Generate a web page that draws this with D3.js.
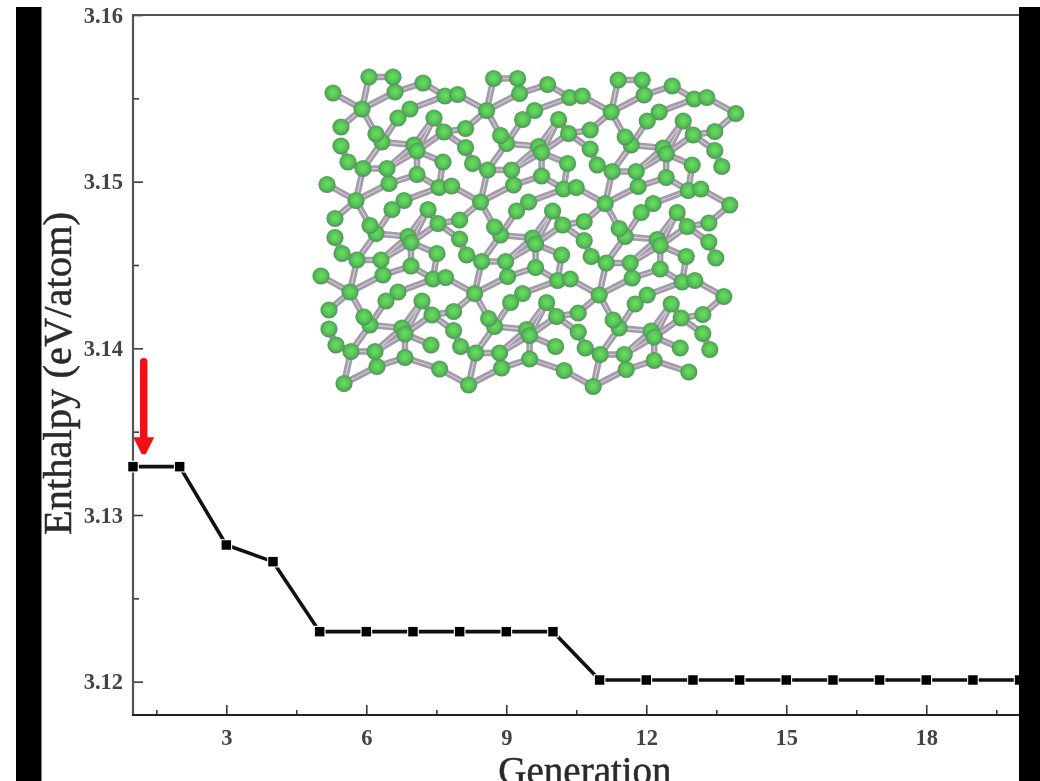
<!DOCTYPE html>
<html>
<head>
<meta charset="utf-8">
<script src="https://d3js.org/d3.v7.min.js"></script>
<style>
html,body{margin:0;padding:0;background:#fff;overflow:hidden}
svg{display:block;filter:blur(0.7px)}
text{font-family:"Liberation Serif",serif}
</style>
</head>
<body>
<svg id="c" width="1040" height="781"></svg>
<script>
// Chart data
const generations = d3.range(1, 21);
const enthalpy = [3.1329,3.1329,3.1282,3.1272,3.123,3.123,3.123,3.123,3.123,3.123,
                  3.1201,3.1201,3.1201,3.1201,3.1201,3.1201,3.1201,3.1201,3.1201,3.1201];
const xTicks = [3,6,9,12,15,18];
const xMinorTicks = [1.5,4.5,7.5,10.5,13.5,16.5,19.5];
const yTicks = [3.12,3.13,3.14,3.15,3.16];
const yMinorTicks = [3.125,3.135,3.145,3.155];
const arrowStart = [1.23, 3.1392];
const arrowEnd = [1.23, 3.1337];

// Inset structure: one repeating motif (name, a, b), in inset units
const motifAtoms = [
  ["E",-29,-16],["F",-21,18],["Q",-21,37],["R",-14,53],
  ["C",33,-17],["D",61,-26],["A",7,-32],["B",31,-32],
  ["I",83,-13],["G",48,0],["H",36,9],["K",72,9],["L",82,23],
  ["U",81,53],["N",20,33],["M",14,25],["O",52,36],["P",55,42],["Hub",0,0]
];
// from, to, cell step a, cell step b
const motifBonds = [
  ["Hub","A",0,0],["Hub","E",0,0],["Hub","F",0,0],["Hub","C",0,0],["Hub","M",0,0],
  ["A","B",0,0],["B","C",0,0],["C","D",0,0],["D","I",0,0],["I","E",1,0],["D","E",1,0],
  ["G","I",0,0],["G","H",0,0],["H","N",0,0],["M","N",0,0],["N","O",0,0],["N","A",0,1],
  ["O","P",0,0],["O","K",0,0],["P","L",0,0],["L","F",1,0],["L","Q",1,0],["L","K",0,0],
  ["Q","R",0,0],["R","A",0,1],["P","U",0,0],["P","D",0,1],["U","I",0,1],
  ["O","B",0,1],["P","B",0,1],["K","P",0,0]
];
const cellsAcross = [0,1,2,3];
const cellsDown = [0,1,2,3];
const rightEdgeAtoms = ["Hub","E","F","Q","R"];
const bottomEdgeAtoms = ["Hub","A","B","C","D","E"];

const svg = d3.select("#c");
const W = 1040, H = 781;

const x = d3.scaleLinear().domain([1,20]).range([133,1019.6]);
const y = d3.scaleLinear().domain([3.118,3.16]).range([715,15]);

// Inset scales
const insetX = d3.scaleLinear().domain([0,100]).range([362,462]);
const insetY = d3.scaleLinear().domain([0,100]).range([109,209]);
const stepA = [124.6,1.5], stepB = [-6,91.5];

svg.append("rect").attr("width",W).attr("height",H).attr("fill","#fff");

// Inset
const defs = svg.append("defs");
const grad = defs.append("radialGradient").attr("id","atom").attr("cx","50%").attr("cy","48%").attr("r","52%");
grad.append("stop").attr("offset","0%").attr("stop-color","#6fdc68");
grad.append("stop").attr("offset","58%").attr("stop-color","#55c553");
grad.append("stop").attr("offset","100%").attr("stop-color","#4f8f5c");

const atomIndex = new Map(motifAtoms.map(d => [d[0], d]));
function present(name,i,j){
  if(i===3 && j===3) return name==="E";
  if(i===3) return rightEdgeAtoms.includes(name);
  if(j===3) return bottomEdgeAtoms.includes(name) && !(name==="E" && i===0);
  return true;
}
function place(name,i,j){
  const a = atomIndex.get(name);
  return [insetX(a[1]) + i*stepA[0] + j*stepB[0], insetY(a[2]) + i*stepA[1] + j*stepB[1]];
}
const atoms = [], bonds = [];
cellsAcross.forEach(i => cellsDown.forEach(j => {
  motifAtoms.forEach(a => { if(present(a[0],i,j)) atoms.push(place(a[0],i,j)); });
  motifBonds.forEach(b => {
    const i2=i+b[2], j2=j+b[3];
    if(i2>3||j2>3) return;
    if(b[0]==="D"&&b[1]==="E"&&j!==3) return;
    if(present(b[0],i,j)&&present(b[1],i2,j2)) bonds.push([place(b[0],i,j),place(b[1],i2,j2)]);
  });
}));
const inset = svg.append("g");
const bondLine = d3.line();
inset.selectAll("path.b").data(bonds).join("path").attr("class","b")
  .attr("d",bondLine).attr("stroke","#a39ba8").attr("stroke-width",6.5).attr("fill","none");
inset.selectAll("path.c").data(bonds).join("path").attr("class","c")
  .attr("d",bondLine).attr("stroke","#d0cbd4").attr("stroke-width",1.3).attr("fill","none");
inset.selectAll("circle").data(atoms).join("circle")
  .attr("cx",d=>d[0]).attr("cy",d=>d[1]).attr("r",8.6).attr("fill","url(#atom)");

// Axes
const axisCol = "#3a3a3a";
function styleAxis(g){
  g.select(".domain").remove();
  g.selectAll("line").attr("stroke",axisCol).attr("stroke-width",1.6);
  g.selectAll("text").attr("font-size",22.5).attr("font-weight","bold").attr("fill","#444");
}
const gx = svg.append("g").attr("transform","translate(0,715)")
  .call(d3.axisBottom(x).tickValues(xTicks).tickSize(-10).tickPadding(13).tickFormat(d3.format("d")));
styleAxis(gx);
gx.selectAll("text").attr("dy","0.71em").attr("y",14);
const gxm = svg.append("g").attr("transform","translate(0,715)")
  .call(d3.axisBottom(x).tickValues(xMinorTicks).tickSize(-5).tickFormat(""));
styleAxis(gxm);
const gy = svg.append("g").attr("transform","translate(133,0)")
  .call(d3.axisLeft(y).tickValues(yTicks).tickSize(-10).tickPadding(10).tickFormat(d3.format(".2f")));
styleAxis(gy);
const gym = svg.append("g").attr("transform","translate(133,0)")
  .call(d3.axisLeft(y).tickValues(yMinorTicks).tickSize(-6).tickFormat(""));
styleAxis(gym);

// Frame
const frame = svg.append("g");
frame.append("line").attr("x1",133).attr("x2",133).attr("y1",14).attr("y2",716).attr("stroke","#555").attr("stroke-width",2.2);
frame.append("line").attr("x1",132).attr("x2",1022).attr("y1",15).attr("y2",15).attr("stroke","#555").attr("stroke-width",1.8);
frame.append("line").attr("x1",132).attr("x2",1022).attr("y1",715).attr("y2",715).attr("stroke","#222").attr("stroke-width",2);

// Series
const series = generations.map((g,i)=>[g,enthalpy[i]]);
svg.append("path").datum(series)
  .attr("fill","none").attr("stroke","#111").attr("stroke-width",3.6)
  .attr("d",d3.line().x(d=>x(d[0])).y(d=>y(d[1])));
svg.selectAll("path.m").data(series).join("path").attr("class","m")
  .attr("transform",d=>`translate(${x(d[0])},${y(d[1])})`)
  .attr("d",d3.symbol(d3.symbolSquare,90))
  .attr("fill","#000").attr("stroke","#fff").attr("stroke-width",2.2).attr("paint-order","stroke");

// Arrow
const ax = x(arrowStart[0]), ay0 = y(arrowStart[1]), ay1 = y(arrowEnd[1]);
svg.append("line").attr("x1",ax).attr("x2",ax).attr("y1",ay0).attr("y2",ay1-12)
  .attr("stroke","#f40f14").attr("stroke-width",7.5).attr("stroke-linecap","round");
svg.append("path").attr("fill","#f40f14")
  .attr("d",d3.line()([[ax-10.5,ay1-16],[ax+10.5,ay1-16],[ax+2,ay1+1],[ax-2,ay1+1]]));

// Axis titles
svg.append("text").attr("transform","translate(71,373.5) rotate(-90)")
  .attr("text-anchor","middle").attr("font-size",40.5).attr("fill","#2a2a2a")
  .attr("stroke","#2a2a2a").attr("stroke-width",0.5)
  .text("Enthalpy (eV/atom)");
svg.append("text").attr("x",585).attr("y",784)
  .attr("text-anchor","middle").attr("font-size",39).attr("fill","#2a2a2a")
  .attr("stroke","#2a2a2a").attr("stroke-width",0.5)
  .text("Generation");

// Black side bands of the scan
svg.append("rect").attr("x",16).attr("y",7).attr("width",25.5).attr("height",H-7).attr("fill","#000");
svg.append("rect").attr("x",1019).attr("y",7).attr("width",21).attr("height",H-7).attr("fill","#000");
</script>
</body>
</html>
